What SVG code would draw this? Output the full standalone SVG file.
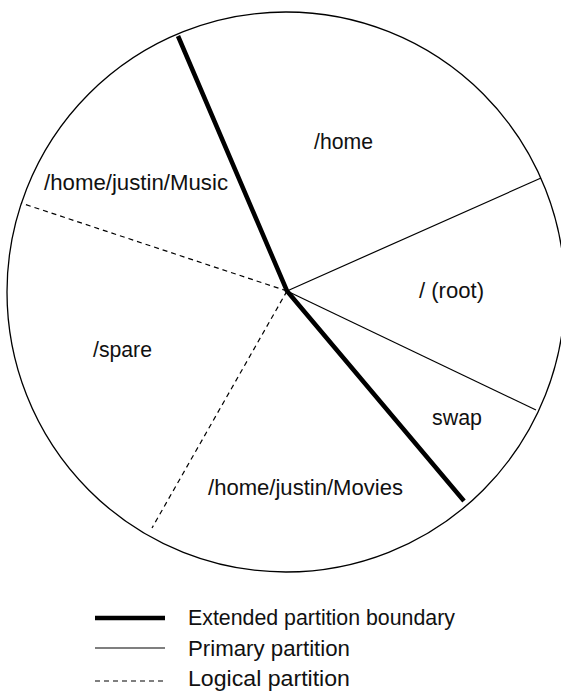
<svg xmlns="http://www.w3.org/2000/svg" width="561" height="691" viewBox="0 0 561 691">
<style>
text{font-family:"Liberation Sans",Arial,sans-serif;font-size:21.5px;fill:#111}
.lbl{text-anchor:middle}
.thick{stroke:#000;stroke-width:4.5;fill:none}
.thin{stroke:#000;stroke-width:1.2;fill:none}
.dash{stroke:#000;stroke-width:1.2;stroke-dasharray:5 4;fill:none}
</style>
<rect width="561" height="691" fill="#fff"/>
<g id="disk">
<ellipse cx="286" cy="292" rx="279" ry="280" fill="none" stroke="#000" stroke-width="1.3"/>
</g>
<g id="connectors">
<line class="thin" x1="287" y1="291" x2="541" y2="178"/>
<line class="thin" x1="287" y1="291" x2="536" y2="410"/>
<line class="dash" x1="287" y1="291" x2="21" y2="203"/>
<line class="dash" x1="287" y1="291" x2="152" y2="528"/>
<polyline class="thick" points="178,36 287,291 464,501" stroke-linejoin="miter"/>
</g>
<g id="home"><text class="lbl" x="343.5" y="149" textLength="59" lengthAdjust="spacingAndGlyphs">/home</text></g>
<g id="music"><text class="lbl" x="136" y="190" textLength="184" lengthAdjust="spacingAndGlyphs">/home/justin/Music</text></g>
<g id="root"><text class="lbl" x="451.5" y="298" textLength="65" lengthAdjust="spacingAndGlyphs">/ (root)</text></g>
<g id="spare"><text class="lbl" x="122.5" y="357" textLength="59" lengthAdjust="spacingAndGlyphs">/spare</text></g>
<g id="swap"><text class="lbl" x="457" y="425" textLength="50" lengthAdjust="spacingAndGlyphs">swap</text></g>
<g id="movies"><text class="lbl" x="305.5" y="495" textLength="195" lengthAdjust="spacingAndGlyphs">/home/justin/Movies</text></g>
<g id="legend">
<line class="thick" x1="95" y1="618" x2="165" y2="618"/>
<line class="thin" x1="95" y1="648" x2="165" y2="648"/>
<line class="dash" x1="95" y1="681" x2="165" y2="681"/>
<text x="188" y="625" textLength="267" lengthAdjust="spacingAndGlyphs">Extended partition boundary</text>
<text x="188" y="656" textLength="162" lengthAdjust="spacingAndGlyphs">Primary partition</text>
<text x="188" y="686" textLength="162" lengthAdjust="spacingAndGlyphs">Logical partition</text>
</g>
</svg>
